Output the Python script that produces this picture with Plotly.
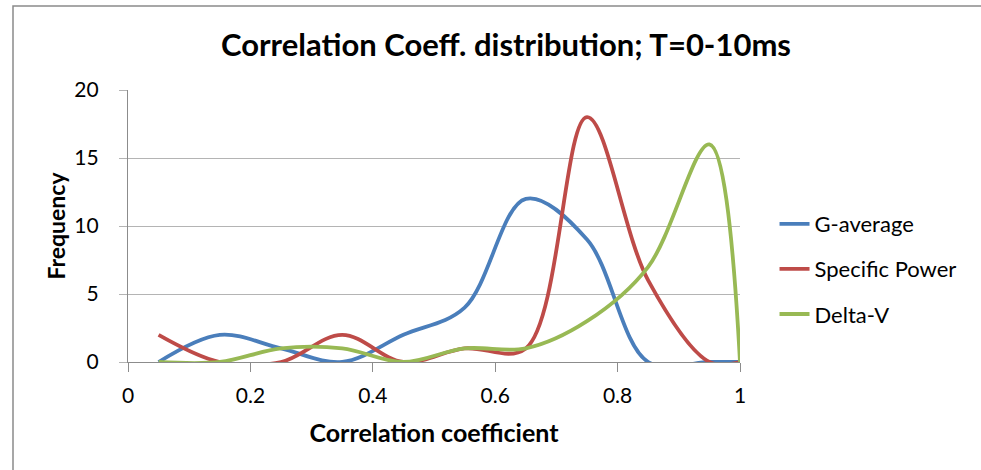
import plotly.graph_objects as go

# bin centres of the correlation coefficient histogram
coeff = [0.05, 0.15, 0.25, 0.35, 0.45, 0.55, 0.65, 0.75, 0.85, 0.95, 1.0]

g_average = [0, 2, 1, 0, 2, 4, 12, 9, 0, 0, 0]
specific_power = [2, 0, 0, 2, 0, 1, 1, 18, 6, 0, 0]
delta_v = [0, 0, 1, 1, 0, 1, 1, 3, 7, 16, 0]

series = [
    ("G-average", g_average, "#4A7EBB"),
    ("Specific Power", specific_power, "#BE4B48"),
    ("Delta-V", delta_v, "#98B954"),
]

FONT = "Lato, 'Open Sans', sans-serif"
GRID = "#b4b4b4"
AXIS = "#8c8c8c"

fig = go.Figure()
for name, vals, color in series:
    fig.add_trace(go.Scatter(
        x=coeff, y=vals, mode="lines", name=name,
        line=dict(color=color, width=3.8, shape="spline", smoothing=1.0),
        legendgroup=name,
    ))

# outer chart frame (only left/top edges fall inside the picture)
fig.add_shape(type="rect", xref="paper", yref="paper",
              x0=(13 - 128) / 612, x1=1.45, y0=-0.5, y1=(362 - 6) / 272,
              line=dict(color="#8a8a8a", width=1.5), layer="below")

fig.update_layout(
    width=981, height=470,
    margin=dict(l=128, r=241, t=90, b=108),
    paper_bgcolor="white", plot_bgcolor="white",
    font=dict(family=FONT, color="black", size=21),
    title=dict(text="<b>Correlation Coeff. distribution; T=0-10ms</b>",
               x=506 / 981, xanchor="center", y=1 - 45 / 470, yanchor="middle",
               font=dict(size=31)),
    legend=dict(x=1.0564, xanchor="left", y=(362 - 203) / 272, yanchor="top",
                font=dict(size=22), tracegroupgap=13.5, bgcolor="rgba(0,0,0,0)"),
)
fig.update_xaxes(range=[0, 1], dtick=0.2, tick0=0, showgrid=False,
                 showline=True, linecolor=AXIS, linewidth=1.3,
                 ticks="outside", ticklen=9, tickcolor=AXIS,
                 ticklabelstandoff=6, zeroline=False,
                 title=dict(text="<b>Correlation coefficient</b>", standoff=18,
                            font=dict(size=25)))
fig.update_yaxes(range=[0, 20], dtick=5, showgrid=True, gridcolor=GRID, gridwidth=1.3,
                 showline=True, linecolor=AXIS, linewidth=1.3,
                 ticks="outside", ticklen=8, tickcolor=GRID,
                 ticklabelstandoff=16, zeroline=False,
                 title=dict(text="<b>Frequency</b>", standoff=2, font=dict(size=23)))

fig.write_html("out.html", config={"displayModeBar": False},
               post_script="document.body.style.margin='0';")
